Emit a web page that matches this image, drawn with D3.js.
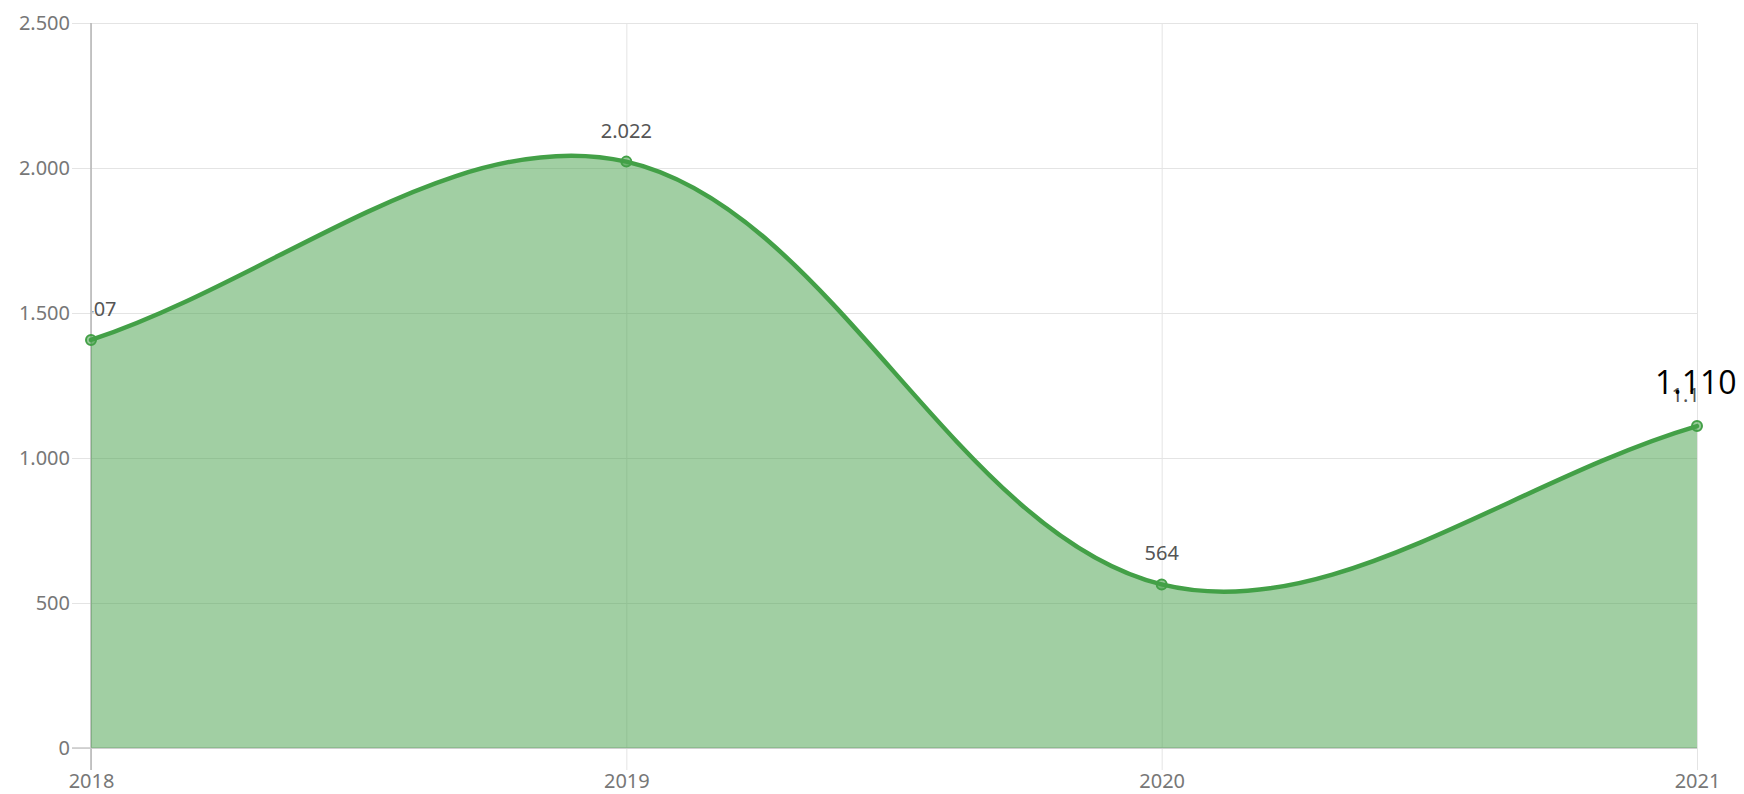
<!DOCTYPE html>
<html>
<head>
<meta charset="utf-8">
<script src="https://cdn.jsdelivr.net/npm/d3@7"></script>
<style>
  body { margin: 0; background: #fff; }
  .tick text { font-family: "Noto Sans", sans-serif; }
</style>
</head>
<body>
<div id="chart"></div>
<script>
// chart data
var years = [2018, 2019, 2020, 2021];
var values = [1407, 2022, 564, 1110];
var yTicks = [0, 500, 1000, 1500, 2000, 2500];
var calloutText = "1.110";

var totalWidth = 1744, totalHeight = 794;
var margin = { top: 23, right: 47, bottom: 46, left: 91 };
var width = totalWidth - margin.left - margin.right;
var height = totalHeight - margin.top - margin.bottom;

var lineColor = "#43a047";

// dots as thousands separator
var locale = d3.formatLocale({ decimal: ",", thousands: ".", grouping: [3], currency: ["", ""] });
var formatNum = locale.format(",");

var svg = d3.select("#chart")
  .append("svg")
    .attr("width", totalWidth)
    .attr("height", totalHeight)
  .append("g")
    .attr("transform", "translate(" + margin.left + "," + margin.top + ")");

var x = d3.scaleLinear()
  .domain(d3.extent(years))
  .range([0, width]);

var y = d3.scaleLinear()
  .domain([0, d3.max(yTicks)])
  .range([height, 0]);

// Y grid + labels
var yAxis = svg.append("g")
  .call(d3.axisLeft(y)
    .tickValues(yTicks)
    .tickSize(-width)
    .tickFormat(function(d) { return formatNum(d); }));
yAxis.select(".domain").remove();
yAxis.selectAll(".tick line")
  .attr("x1", -19)
  .attr("x2", width)
  .attr("stroke", "#e4e4e4");
yAxis.selectAll(".tick text")
  .attr("x", -21)
  .attr("dy", null)
  .attr("y", 6.5)
  .attr("fill", "#777")
  .style("font-size", "20px");

// X grid + labels
var xAxis = svg.append("g")
  .attr("transform", "translate(0," + height + ")")
  .call(d3.axisBottom(x)
    .tickValues(years)
    .tickSize(-height)
    .tickFormat(d3.format("d")));
xAxis.select(".domain").remove();
xAxis.selectAll(".tick line")
  .attr("y1", 22)
  .attr("y2", -height)
  .attr("stroke", "#e4e4e4");
xAxis.selectAll(".tick text")
  .attr("dy", null)
  .attr("y", 40)
  .attr("fill", "#777")
  .style("font-size", "20px");

// axis lines
svg.append("line")
  .attr("x1", 0).attr("x2", 0)
  .attr("y1", 0).attr("y2", height + 22)
  .attr("stroke", "#b5b5b5")
  .attr("stroke-width", 1.5);
svg.append("line")
  .attr("x1", -19).attr("x2", width)
  .attr("y1", height).attr("y2", height)
  .attr("stroke", "#c8c8c8")
  .attr("stroke-width", 1.5);

// bezier control points for a smooth spline through the points
var pts = years.map(function(yr, i) { return [x(yr), y(values[i])]; });
function controlPoints(p, tension) {
  return p.map(function(cur, i) {
    var prev = p[i - 1] || cur, next = p[i + 1] || cur;
    var d01 = Math.hypot(cur[0] - prev[0], cur[1] - prev[1]);
    var d12 = Math.hypot(next[0] - cur[0], next[1] - cur[1]);
    var s01 = d01 / (d01 + d12) || 0, s12 = d12 / (d01 + d12) || 0;
    var fa = tension * s01, fb = tension * s12;
    return {
      before: [cur[0] - fa * (next[0] - prev[0]), Math.min(height, Math.max(0, cur[1] - fa * (next[1] - prev[1])))],
      after: [cur[0] + fb * (next[0] - prev[0]), Math.min(height, Math.max(0, cur[1] + fb * (next[1] - prev[1])))]
    };
  });
}
var cps = controlPoints(pts, 0.35);

function linePath(closeArea) {
  var path = d3.path();
  path.moveTo(pts[0][0], pts[0][1]);
  for (var i = 1; i < pts.length; i++) {
    path.bezierCurveTo(cps[i - 1].after[0], cps[i - 1].after[1], cps[i].before[0], cps[i].before[1], pts[i][0], pts[i][1]);
  }
  if (closeArea) {
    path.lineTo(x(years[years.length - 1]), y(0));
    path.lineTo(x(years[0]), y(0));
    path.closePath();
  }
  return path.toString();
}

// area
svg.append("path")
  .attr("d", linePath(true))
  .attr("fill", lineColor)
  .attr("fill-opacity", 0.5);

// line
svg.append("path")
  .attr("d", linePath(false))
  .attr("fill", "none")
  .attr("stroke", lineColor)
  .attr("stroke-width", 4.5)
  .attr("stroke-linejoin", "round")
  .attr("stroke-linecap", "round");

// points
svg.selectAll(".dot")
  .data(years)
  .enter()
  .append("circle")
    .attr("class", "dot")
    .attr("cx", function(d) { return x(d); })
    .attr("cy", function(d, i) { return y(values[i]); })
    .attr("r", 5)
    .attr("fill", "rgba(67,160,71,0.55)")
    .attr("stroke", lineColor)
    .attr("stroke-width", 2);

// value labels, clipped to the plot area
svg.append("clipPath")
  .attr("id", "plot-clip")
  .append("rect")
    .attr("x", 1.5)
    .attr("y", -margin.top)
    .attr("width", width - 1.5)
    .attr("height", height + margin.top);

svg.append("g")
  .attr("clip-path", "url(#plot-clip)")
  .selectAll("text")
  .data(years)
  .enter()
  .append("text")
    .attr("x", function(d) { return x(d); })
    .attr("y", function(d, i) { return y(values[i]) - 24; })
    .attr("text-anchor", "middle")
    .attr("fill", "#555")
    .style("font-family", "'Noto Sans', sans-serif")
    .style("font-size", "20px")
    .text(function(d, i) { return formatNum(values[i]); });

// big callout over last point
svg.append("text")
  .attr("x", x(years[years.length - 1]) - 42)
  .attr("y", y(values[values.length - 1]) - 32)
  .attr("fill", "#000")
  .style("font-family", "'Open Sans', sans-serif")
  .style("font-size", "32px")
  .text(calloutText);
</script>
</body>
</html>
